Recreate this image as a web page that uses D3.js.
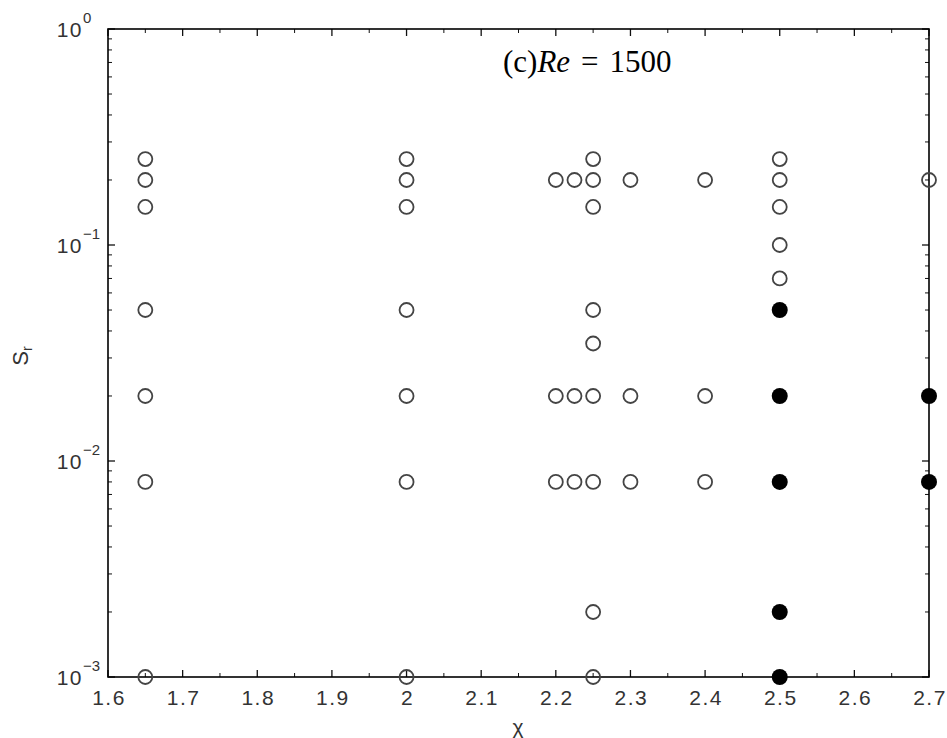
<!DOCTYPE html>
<html><head><meta charset="utf-8">
<script src="https://cdn.jsdelivr.net/npm/d3@7"></script>
<style>body{margin:0;background:#fff}svg{display:block}</style>
</head><body>
<script>
// Data: chi positions, S_r values, and state (open = stable, filled = unstable)
const openChi = [1.65,1.65,1.65,1.65,1.65,1.65,1.65,
  2.0,2.0,2.0,2.0,2.0,2.0,2.0,
  2.2,2.2,2.2,
  2.225,2.225,2.225,
  2.25,2.25,2.25,2.25,2.25,2.25,2.25,2.25,2.25,
  2.3,2.3,2.3,
  2.4,2.4,2.4,
  2.5,2.5,2.5,2.5,2.5,
  2.7];
const openSr = [0.25,0.2,0.15,0.05,0.02,0.008,0.001,
  0.25,0.2,0.15,0.05,0.02,0.008,0.001,
  0.2,0.02,0.008,
  0.2,0.02,0.008,
  0.25,0.2,0.15,0.05,0.035,0.02,0.008,0.002,0.001,
  0.2,0.02,0.008,
  0.2,0.02,0.008,
  0.25,0.2,0.15,0.1,0.07,
  0.2];
const filledChi = [2.5,2.5,2.5,2.5,2.5,2.7,2.7];
const filledSr  = [0.05,0.02,0.008,0.002,0.001,0.02,0.008];
const xTicks = [1.6,1.7,1.8,1.9,2,2.1,2.2,2.3,2.4,2.5,2.6,2.7];
const xTickLabels = ["1.6","1.7","1.8","1.9","2","2.1","2.2","2.3","2.4","2.5","2.6","2.7"];
const yExponents = [0,-1,-2,-3];

const W = 947, H = 738;
const L = 108, R = 929, T = 29, B = 677;
const svg = d3.select("body").append("svg").attr("width", W).attr("height", H);
const x = d3.scaleLinear().domain([1.6, 2.7]).range([L, R]);
const y = d3.scaleLog().domain([1e-3, 1]).range([B, T]);

const tickColor = "#111";
const g = svg.append("g");

// x ticks (major + minor), bottom and top, pointing inward
const xMinor = d3.range(1.65, 2.7, 0.1).map(v => +v.toFixed(2));
xTicks.forEach(v => {
  g.append("line").attr("x1", x(v)).attr("x2", x(v)).attr("y1", B).attr("y2", B - 7).attr("stroke", tickColor).attr("stroke-width", 1.3);
  g.append("line").attr("x1", x(v)).attr("x2", x(v)).attr("y1", T).attr("y2", T + 7).attr("stroke", tickColor).attr("stroke-width", 1.3);
});
xMinor.forEach(v => {
  g.append("line").attr("x1", x(v)).attr("x2", x(v)).attr("y1", B).attr("y2", B - 4).attr("stroke", tickColor).attr("stroke-width", 1);
  g.append("line").attr("x1", x(v)).attr("x2", x(v)).attr("y1", T).attr("y2", T + 4).attr("stroke", tickColor).attr("stroke-width", 1);
});
// y ticks: major at decades, minor at 2..9
yExponents.forEach(e => {
  const v = Math.pow(10, e);
  g.append("line").attr("x1", L).attr("x2", L + 7).attr("y1", y(v)).attr("y2", y(v)).attr("stroke", tickColor).attr("stroke-width", 1.3);
  g.append("line").attr("x1", R).attr("x2", R - 7).attr("y1", y(v)).attr("y2", y(v)).attr("stroke", tickColor).attr("stroke-width", 1.3);
  if (e < 0) {
    for (let k = 2; k <= 9; k++) {
      const mv = k * v;
      g.append("line").attr("x1", L).attr("x2", L + 4).attr("y1", y(mv)).attr("y2", y(mv)).attr("stroke", tickColor).attr("stroke-width", 1);
      g.append("line").attr("x1", R).attr("x2", R - 4).attr("y1", y(mv)).attr("y2", y(mv)).attr("stroke", tickColor).attr("stroke-width", 1);
    }
  }
});

// frame
svg.append("rect").attr("x", L).attr("y", T).attr("width", R - L).attr("height", B - T)
  .attr("fill", "none").attr("stroke", "#000").attr("stroke-width", 1.6);

// x tick labels
const tickFont = "'Liberation Sans', Arial, sans-serif";
xTicks.forEach((v, i) => {
  svg.append("text").attr("x", x(v) + 1).attr("y", 705).attr("text-anchor", "middle")
    .attr("font-family", tickFont).attr("font-size", 21).attr("letter-spacing", 1.5)
    .attr("fill", "#333").text(xTickLabels[i]);
});
// y tick labels 10^e
yExponents.forEach(e => {
  const yy = y(Math.pow(10, e));
  const t = svg.append("text").attr("x", 83).attr("y", yy + 8).attr("text-anchor", "end")
    .attr("font-family", tickFont).attr("font-size", 21).attr("letter-spacing", 1.5).attr("fill", "#333");
  t.text("10");
  svg.append("text").attr("x", 83).attr("y", yy - 6)
    .attr("font-family", tickFont).attr("font-size", 15).attr("fill", "#333")
    .text(e === 0 ? "0" : "\u2212" + (-e));
});

// axis labels
svg.append("text").attr("x", 518).attr("y", 734).attr("text-anchor", "middle")
  .attr("font-family", tickFont).attr("font-size", 21).attr("fill", "#333").text("\u03C7");
const yl = svg.append("text").attr("transform", "translate(28,356) rotate(-90)")
  .attr("text-anchor", "middle").attr("font-family", tickFont).attr("font-size", 22).attr("fill", "#333");
yl.append("tspan").text("S");
yl.append("tspan").attr("font-size", 14).attr("dy", 4).text("r");

// annotation
const ann = svg.append("text").attr("x", 503).attr("y", 72)
  .attr("font-family", "'Liberation Serif', 'DejaVu Serif', serif").attr("font-size", 31).attr("fill", "#000");
ann.append("tspan").text("(c)");
ann.append("tspan").attr("font-style", "italic").text("Re");
ann.append("tspan").attr("dx", 11).text("=");
ann.append("tspan").attr("dx", 11).text("1500");

// points
const openData = openChi.map((c, i) => ({c, s: openSr[i]}));
const filledData = filledChi.map((c, i) => ({c, s: filledSr[i]}));
svg.append("g").selectAll("circle").data(openData).join("circle")
  .attr("cx", d => x(d.c)).attr("cy", d => y(d.s)).attr("r", 7)
  .attr("fill", "none").attr("stroke", "#444").attr("stroke-width", 1.8);
svg.append("g").selectAll("circle").data(filledData).join("circle")
  .attr("cx", d => x(d.c)).attr("cy", d => y(d.s)).attr("r", 8)
  .attr("fill", "#000");
</script>
</body></html>
